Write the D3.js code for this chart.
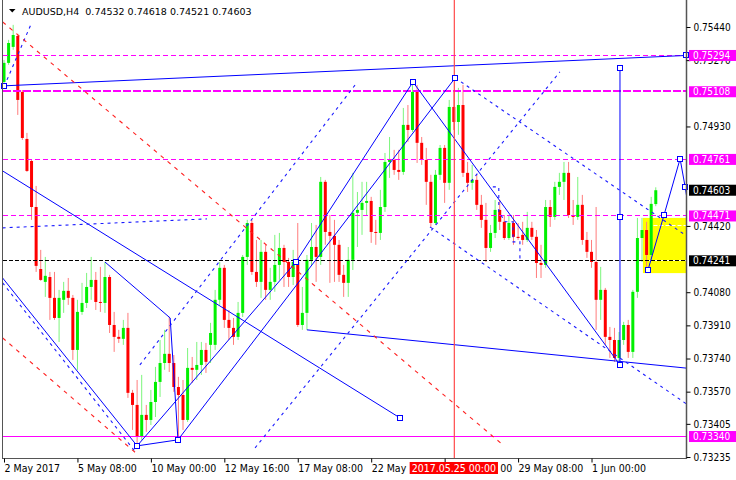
<!DOCTYPE html>
<html><head><meta charset="utf-8">
<script src="https://cdn.jsdelivr.net/npm/d3@7"></script>
<style>
body{margin:0;background:#fff}
svg{display:block}
text{font-family:"DejaVu Sans Condensed","DejaVu Sans",sans-serif;font-size:10px}
</style>
</head><body><svg id="c" width="736" height="480"></svg>
<script>
// ---------------- DATA ----------------
const symbolTitle = "AUDUSD,H4";
const lastOHLC = [0.74532, 0.74618, 0.74521, 0.74603];

const opens = [.75158,.75256,.75338,.75394,.75107,.74866,.74753,.74517,.74199,.74133,
.74158,.74051,.73948,.74041,.74087,.74051,.73784,.73979,.74025,.74107,
.74143,.74030,.74025,.74158,.73912,.73851,.73841,.73897,.73564,.73502,
.73338,.73451,.73425,.73517,.73620,.73717,.73764,.73717,.73594,.73553,
.73425,.73692,.73682,.73707,.73784,.73810,.73810,.74041,.74205,.73938,
.73897,.73851,.73974,.74261,.74435,.74184,.74133,.74287,.74092,.74133,
.74220,.74307,.74235,.74158,.74235,.73912,.73974,.74246,.74312,.74261,
.74646,.74389,.74369,.74323,.74169,.74128,.74246,.74487,.74502,.74538,
.74548,.74389,.74384,.74517,.74748,.74758,.74707,.74697,.74938,.74912,
.75107,.74846,.74758,.74646,.74435,.74682,.74820,.74641,.75030,.74953,
.75040,.74692,.74641,.74656,.74528,.74451,.74307,.74384,.74502,.74441,
.74358,.74435,.74364,.74374,.74348,.74410,.74364,.74230,.74220,.74517,
.74466,.74620,.74646,.74692,.74476,.74466,.74528,.74348,.74287,.74235,
.74041,.74092,.73851,.73835,.73743,.73835,.73912,.73774,.74082,.74358,
.74399,.74271,.74532];
const highs = [.75271,.75374,.75451,.75405,.75117,.74897,.74758,.74625,.74297,.74261,
.74184,.74184,.74092,.74133,.74153,.74066,.74041,.74128,.74179,.74261,
.74184,.74210,.74235,.74169,.73979,.73887,.73938,.73974,.73579,.73630,
.73656,.73502,.73579,.73697,.73835,.73887,.73953,.73758,.73646,.73630,
.73794,.73748,.73825,.73825,.73820,.73923,.74092,.74235,.74220,.73989,
.73948,.74030,.74271,.74451,.74451,.74348,.74348,.74323,.74205,.74374,
.74384,.74323,.74256,.74297,.74435,.74107,.74271,.74435,.74425,.74671,
.74656,.74476,.74451,.74348,.74220,.74312,.74692,.74594,.74646,.74646,
.74569,.74451,.74605,.74794,.74876,.74810,.74810,.75025,.75040,.75169,
.75143,.74876,.74820,.74682,.74707,.74835,.74835,.75066,.75117,.75128,
.75143,.74748,.74733,.74682,.74579,.74538,.74425,.74553,.74553,.74476,
.74476,.74476,.74435,.74441,.74492,.74441,.74399,.74323,.74553,.74553,
.74646,.74692,.74748,.74748,.74553,.74671,.74579,.74389,.74348,.74517,
.74210,.74102,.73902,.73897,.73876,.73928,.73938,.74092,.74461,.74461,
.74441,.74569,.74618];
const lows = [.75143,.75246,.75323,.74989,.74861,.74697,.74451,.74184,.74138,.74056,
.73938,.73938,.73825,.73974,.74015,.73733,.73682,.73964,.73999,.74041,
.73989,.73979,.73974,.73871,.73774,.73820,.73810,.73538,.73374,.73292,
.73323,.73364,.73399,.73440,.73543,.73682,.73671,.73569,.73333,.73374,
.73415,.73615,.73630,.73656,.73666,.73717,.73784,.74015,.73897,.73835,
.73810,.73835,.73953,.74220,.74169,.74107,.74051,.74041,.74041,.74082,
.74143,.74107,.74107,.74117,.73902,.73887,.73887,.74220,.74133,.74220,
.74323,.74128,.74133,.74133,.74056,.74056,.74194,.74312,.74374,.74476,
.74333,.74323,.74348,.74492,.74666,.74682,.74656,.74682,.74851,.74902,
.74743,.74733,.74528,.74415,.74425,.74656,.74538,.74605,.74912,.74887,
.74671,.74594,.74605,.74502,.74410,.74235,.74287,.74358,.74399,.74348,
.74348,.74323,.74348,.74323,.74338,.74348,.74153,.74153,.74205,.74415,
.74451,.74579,.74553,.74461,.74425,.74451,.74323,.74256,.74205,.73887,
.73938,.73810,.73743,.73723,.73707,.73810,.73743,.73743,.74051,.74235,
.74205,.74246,.74521];
const closes = [.75256,.75358,.75399,.75066,.74871,.74702,.74517,.74215,.74143,.74164,
.74051,.73948,.74051,.74087,.74051,.73784,.73979,.74025,.74107,.74143,
.74030,.74025,.74158,.73912,.73851,.73841,.73897,.73564,.73502,.73338,
.73451,.73425,.73517,.73620,.73717,.73764,.73717,.73594,.73553,.73425,
.73692,.73682,.73707,.73784,.73723,.73871,.74041,.74205,.73938,.73897,
.73851,.73974,.74261,.74435,.74184,.74133,.74287,.74092,.74133,.74220,
.74307,.74235,.74158,.74235,.73912,.73974,.74246,.74312,.74261,.74646,
.74389,.74369,.74323,.74169,.74128,.74246,.74487,.74502,.74538,.74548,
.74389,.74384,.74517,.74748,.74758,.74707,.74697,.74938,.74912,.75107,
.74846,.74758,.74646,.74435,.74682,.74820,.74641,.75030,.74953,.75040,
.74692,.74641,.74656,.74528,.74451,.74307,.74384,.74502,.74441,.74358,
.74435,.74364,.74358,.74348,.74410,.74364,.74230,.74220,.74517,.74466,
.74620,.74646,.74692,.74476,.74466,.74528,.74348,.74287,.74235,.74041,
.74092,.73851,.73835,.73743,.73835,.73912,.73774,.74082,.74358,.74399,
.74271,.74533,.74603];

// time axis (bar index of each label)
const timeTickBars = [0,16,32,48,64,80,96,112,128];
const timeTickLabels = ["2 May 2017","5 May 08:00","10 May 00:00","12 May 16:00","17 May 08:00","22 May 00:00","24 May 16:00","29 May 08:00","1 Jun 00:00"];
const crossBar = 98;
const crossLabel = "2017.05.25 00:00";

// price axis (labels not hidden under level boxes)
const priceTicks = [0.75440,0.75270,0.74930,0.74420,0.74080,0.73910,0.73740,0.73570,0.73405,0.73235];

// horizontal levels
const magentaDashLevels = [0.75294, 0.74761, 0.74471];
const magentaThickLevel = 0.75108;
const magentaSolidLevel = 0.73340;
const blackDashLevel = 0.74241;
const magentaLabels = [0.75294, 0.75108, 0.74761, 0.74471, 0.73340];
const blackLabels = [0.74603, 0.74241];

// rectangle zone [bar0, price0, bar1, price1]
const zoneRect = [139.2, 0.74461, 149.5, 0.74178];
const zoneInner = [[141.5, 0.74425], [140.2, 0.74247]];

// trend lines: [barIndex, price] anchors
const solidLines = [
  [[-0.3,0.75138],[148.6,0.75294]],
  [[-0.3,0.74702],[86.3,0.73435]],
  [[22.0,0.74235],[36.2,0.73948],[37.9,0.73323]],
  [[-0.3,0.74153],[29.0,0.73292],[37.9,0.73323]],
  [[29.0,0.73292],[63.6,0.74235],[89.1,0.75158]],
  [[37.9,0.73323],[98.3,0.75179]],
  [[89.1,0.75158],[134.2,0.73707]],
  [[134.2,0.75230],[134.2,0.73707]],
  [[66.0,0.73887],[149.0,0.73690]],
  [[140.3,0.74194],[143.8,0.74476],[147.3,0.74764],[148.4,0.74620],[148.8,0.74560]]
];
const dashedLines = [
  [[-0.3,0.74128],[28.6,0.73262]],
  [[29.6,0.73707],[76.5,0.75143]],
  [[54.7,0.73282],[121.1,0.75210]],
  [[98.3,0.75179],[149.0,0.74364]],
  [[92.8,0.74415],[149.0,0.73502]],
  [[-0.3,0.74410],[44.2,0.74456]],
  [[0.65,0.75169],[6.1,0.75466]],
  [[106.5,0.74620],[107.8,0.74620],[107.8,0.74492],[109.2,0.74441],[110.9,0.74441],[110.9,0.74338],[112.4,0.74338],[112.4,0.74256],[111.5,0.74256]]
];
const redDashedLines = [
  [[-0.3,0.75466],[108.7,0.73297]],
  [[-0.3,0.73846],[29.2,0.73246]]
];
const anchorSquares = [
  [-0.1,0.75138],[148.6,0.75294],[86.3,0.73435],[29.0,0.73292],[37.9,0.73323],
  [63.6,0.74235],[89.1,0.75158],[98.3,0.75179],[134.2,0.75230],[134.2,0.74466],
  [134.2,0.73707],[140.3,0.74194],[143.8,0.74476],[147.3,0.74764],[148.4,0.74620]
];

// ---------------- DRAW ----------------
const svg = d3.select("#c");
const plotL = 3, plotR = 686, plotT = 0, plotB = 458;
const x = d3.scaleLinear().domain([0, 142]).range([4, 4 + 142 * 4.59]);
const y = d3.scaleLinear().domain([0.73235, 0.75440]).range([457, 27]);

svg.append("rect").attr("width",736).attr("height",480).attr("fill","#fff");
svg.append("defs").append("clipPath").attr("id","clip")
  .append("rect").attr("x",plotL).attr("y",plotT).attr("width",plotR-plotL).attr("height",plotB-plotT);

const plot = svg.append("g").attr("clip-path","url(#clip)");

// zone
plot.append("rect")
  .attr("x", x(zoneRect[0])).attr("y", y(zoneRect[1]))
  .attr("width", x(zoneRect[2]) - x(zoneRect[0]))
  .attr("height", y(zoneRect[3]) - y(zoneRect[1]))
  .attr("fill", "#ffff00");
zoneInner.forEach(d => plot.append("line")
  .attr("x1", x(d[0])).attr("x2", plotR).attr("y1", Math.round(y(d[1]))+0.5).attr("y2", Math.round(y(d[1]))+0.5)
  .attr("stroke","#fff").attr("stroke-dasharray","4,2"));

// candles
const bars = d3.range(opens.length).map(i => ({i, o:opens[i], h:highs[i], l:lows[i], c:closes[i]}));
const cg = plot.append("g");
cg.selectAll("line.w").data(bars).join("line")
  .attr("x1", d => x(d.i)).attr("x2", d => x(d.i))
  .attr("y1", d => y(d.h)).attr("y2", d => y(d.l))
  .attr("stroke", d => d.c >= d.o ? "#7cf57c" : "#ff7c7c").attr("stroke-width", 1);
cg.selectAll("rect.b").data(bars).join("rect")
  .attr("x", d => x(d.i) - 1.5).attr("width", 3)
  .attr("y", d => y(Math.max(d.o, d.c)))
  .attr("height", d => Math.max(1, Math.abs(y(d.o) - y(d.c))))
  .attr("fill", d => d.c >= d.o ? "#00f000" : "#ff0000");

// horizontal levels
function hline(p, color, dash, w) {
  const yy = Math.floor(y(p)) + (w === 2 ? 0 : 0.5);
  const l = plot.append("line").attr("x1", plotL).attr("x2", plotR).attr("y1", yy).attr("y2", yy)
    .attr("stroke", color).attr("stroke-width", w).attr("shape-rendering","crispEdges");
  if (dash) l.attr("stroke-dasharray", dash);
}
magentaDashLevels.forEach(p => hline(p, "#ff00ff", "5,3", 1));
hline(magentaThickLevel, "#ff00ff", "8,2", 2);
hline(magentaSolidLevel, "#ff00ff", null, 1);
hline(blackDashLevel, "#000000", "4,2", 1);

// lines
const lineGen = d3.line().x(d => x(d[0])).y(d => y(d[1]));
solidLines.forEach(pts => plot.append("path").attr("d", lineGen(pts))
  .attr("fill","none").attr("stroke","#0000ff").attr("stroke-width",1));
dashedLines.forEach(pts => plot.append("path").attr("d", lineGen(pts))
  .attr("fill","none").attr("stroke","#1a1aff").attr("stroke-width",1.1).attr("stroke-dasharray","3,4"));
redDashedLines.forEach(pts => plot.append("path").attr("d", lineGen(pts))
  .attr("fill","none").attr("stroke","#ff2020").attr("stroke-width",1.1).attr("stroke-dasharray","4,5"));

// crosshair vertical line
plot.append("line").attr("x1", x(crossBar)+0.5).attr("x2", x(crossBar)+0.5)
  .attr("y1", plotT).attr("y2", plotB).attr("stroke","#ff4a4a").attr("stroke-width",1.2);

// anchor squares
svg.append("g").selectAll("rect").data(anchorSquares).join("rect")
  .attr("x", d => Math.round(x(d[0])) - 2.5).attr("y", d => Math.round(y(d[1])) - 2.5)
  .attr("width",5).attr("height",5).attr("fill","#fff").attr("stroke","#0000ff").attr("stroke-width",1);

// frame
svg.append("line").attr("x1",plotL-0.5).attr("x2",plotL-0.5).attr("y1",0).attr("y2",plotB).attr("stroke","#555");
svg.append("line").attr("x1",plotR+0.5).attr("x2",plotR+0.5).attr("y1",0).attr("y2",plotB+0.5).attr("stroke","#555").attr("stroke-width",1.5);
svg.append("line").attr("x1",plotL-1).attr("x2",plotR+1).attr("y1",plotB+0.5).attr("y2",plotB+0.5).attr("stroke","#555");

// price axis
const yAxis = d3.axisRight(y).tickValues(priceTicks).tickFormat(d3.format(".5f")).tickSize(4).tickPadding(3);
const ya = svg.append("g").attr("transform", `translate(${plotR+0.5},0)`).call(yAxis);
ya.select(".domain").remove();
ya.selectAll("text").attr("fill","#000").style("font-size","10px");
ya.selectAll("line").attr("stroke","#000");

// time axis
const xAxis = d3.axisBottom(x).tickValues(timeTickBars).tickFormat((d,i) => timeTickLabels[i]).tickSize(4).tickPadding(2);
const xa = svg.append("g").attr("transform", `translate(0,${plotB+0.5})`).call(xAxis);
xa.select(".domain").remove();
xa.selectAll("text").attr("text-anchor","start").attr("fill","#000").style("font-size","10.5px");
xa.selectAll("line").attr("stroke","#000");
// the crosshair label covers the tail of the 22 May label and the head of the 24 May label
xa.selectAll(".tick").filter(d => d === 80).select("text").text("22 May");
xa.selectAll(".tick").filter(d => d === 96).select("text").text("00").attr("dx", 55);

// price labels
function priceLabel(p, bg) {
  const yy = y(p);
  svg.append("rect").attr("x", 689).attr("y", yy - 5.5).attr("width", 47).attr("height", 11).attr("fill", bg);
  svg.append("text").attr("x", 693).attr("y", yy).attr("dy","0.35em").attr("fill","#fff").text(d3.format(".5f")(p));
}
magentaLabels.forEach(p => priceLabel(p, "#ff00ff"));
blackLabels.forEach(p => priceLabel(p, "#000000"));

// crosshair time label
const crossG = svg.append("g");
const crossRect = crossG.append("rect").attr("fill", "#ff0000");
const ct = crossG.append("text").attr("x", x(crossBar)).attr("y", 471.5).attr("text-anchor","middle").attr("fill","#fff").style("font-size","10.5px").text(crossLabel);
const bb = ct.node().getBBox();
crossRect.attr("x", bb.x - 2).attr("y", 462).attr("width", bb.width + 4).attr("height", 12);

// title
svg.append("path").attr("d", d3.line()([[9,9],[15.5,9],[12.25,12.5]]) + "Z").attr("fill","#000");
svg.append("text").attr("x", 22).attr("y", 14.5).attr("fill","#000")
  .attr("xml:space","preserve").style("white-space","pre")
  .style("font-family","'DejaVu Sans',sans-serif").style("font-size","9.5px")
  .text(symbolTitle + "  " + lastOHLC.map(d3.format(".5f")).join(" "));
</script>
</body></html>
